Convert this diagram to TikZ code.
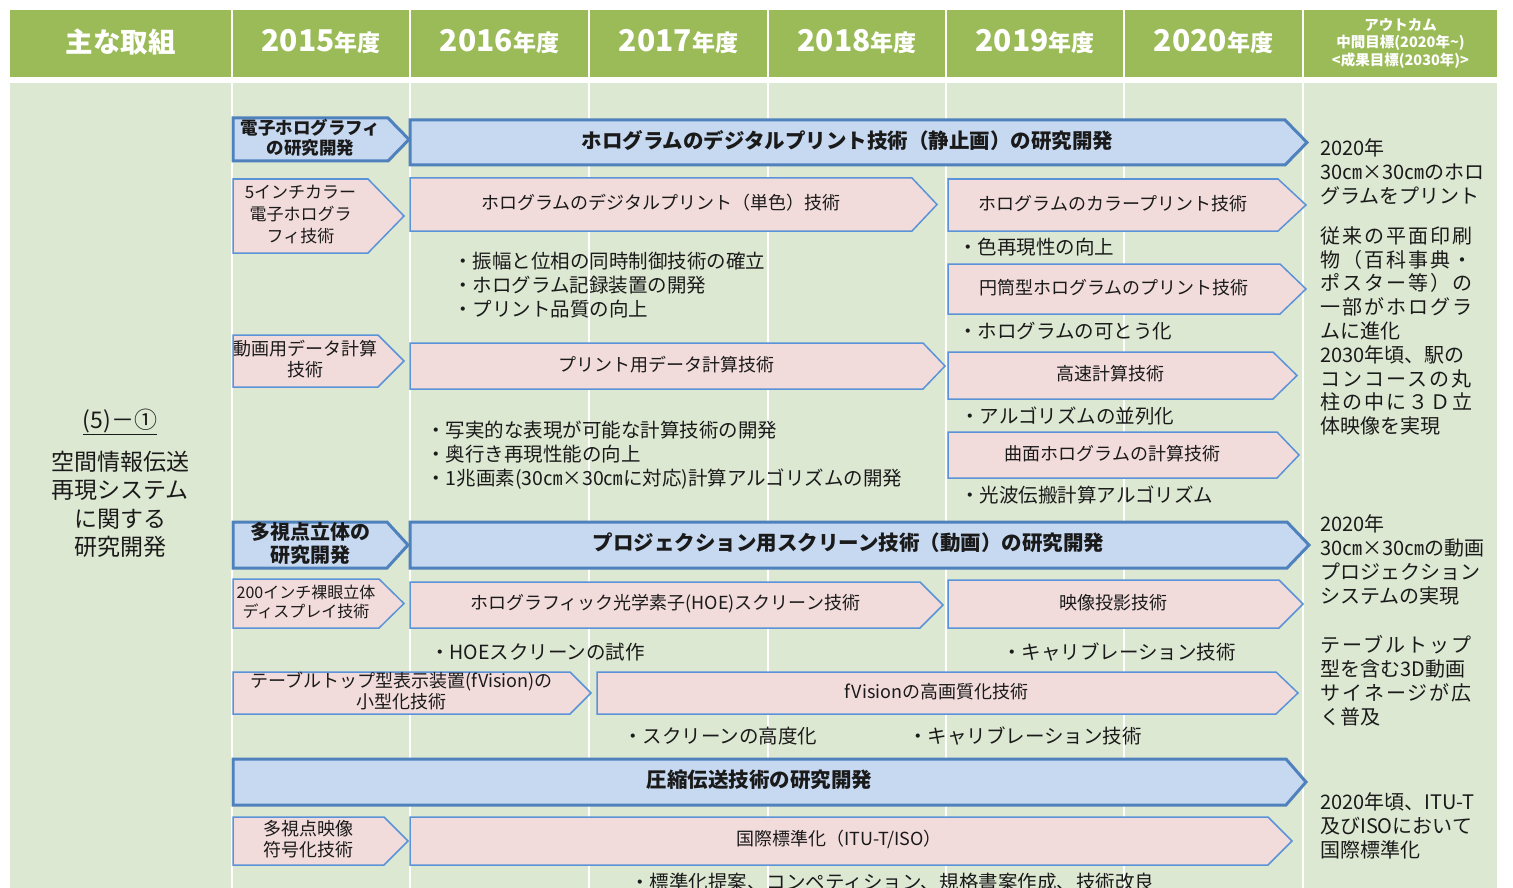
\documentclass[tikz,border=0pt]{standalone}
\usepackage{fontspec}
\setmainfont{Noto Sans CJK JP}
\definecolor{hdrgreen}{HTML}{9BBB59}
\definecolor{bodygreen}{HTML}{DDE8D3}
\definecolor{bluefill}{HTML}{C6D9F1}
\definecolor{blueline}{HTML}{4F81BD}
\definecolor{pinkfill}{HTML}{F2DCDB}
\definecolor{pinkline}{HTML}{5B93D8}
\definecolor{ink}{HTML}{1A1A1A}
\newcommand\fs[2]{\fontsize{#1}{#2}\selectfont}
\newcommand\ls[1]{{\addfontfeature{LetterSpace=10}#1}}
\newcommand\tlarrow[8]{%
  \draw[#2] (#3,#4) -- ({#5-#7},#4) -- (#5,{(#4+#6)/2}) -- ({#5-#7},#6) -- (#3,#6) -- cycle;
  \node[#2txt] (#1) at ({(#3+#5-#7)/2},{(#4+#6)/2}) {#8};}
\tikzset{
  bigblue/.style={fill=bluefill,draw=blueline,line width=3pt,line join=miter},
  bigbluetxt/.style={font=\bfseries\fs{20.5}{23},text=ink,align=center,inner sep=0,yshift=2pt},
  midblue/.style={bigblue},
  midbluetxt/.style={bigbluetxt,font=\bfseries\fs{20}{23}},
  smallblue/.style={bigblue},
  smallbluetxt/.style={bigbluetxt,font=\bfseries\fs{17.5}{20}},
  pinkbox/.style={fill=pinkfill,draw=pinkline,line width=1.5pt,line join=miter},
  pinkboxtxt/.style={font=\fs{18}{21},text=ink,align=center,inner sep=0,yshift=1.5pt},
  pinkfive/.style={pinkbox},
  pinkfivetxt/.style={pinkboxtxt,font=\fs{17}{22}},
  pinksmall/.style={pinkbox},
  pinksmalltxt/.style={pinkboxtxt,font=\fs{16}{19}},
  bullet/.style={anchor=west,inner sep=0,font=\fs{19.5}{24},text=ink},
  outc/.style={anchor=west,inner sep=0,font=\fs{20}{24},align=left,text=ink},
  hdr/.style={text=white,font=\bfseries\fs{27.5}{30},inner sep=0},
  lefttxt/.style={text=ink,font=\fs{23}{28.5},inner sep=0,align=center},
}
\begin{document}
\begin{tikzpicture}[x=1pt,y=-1pt]
\fill[white] (0,0) rectangle (1513,888);
\useasboundingbox (0,0) rectangle (1513,888);
\foreach \a/\b in {10/231,233/409,411/588,590/767,769/945,947/1123,1125/1302,1304/1497} {
  \fill[hdrgreen] (\a,10) rectangle (\b,77);
  \fill[bodygreen] (\a,83) rectangle (\b,900);
}
% header texts
\node[hdr] (h0) at (120.5,42) {主な取組};
\node[hdr] (h1) at (321,42) {{\fs{30}{30}2015}{\fs{23}{23}年度}};
\node[hdr] (h2) at (499.5,42) {{\fs{30}{30}2016}{\fs{23}{23}年度}};
\node[hdr] (h3) at (678.5,42) {{\fs{30}{30}2017}{\fs{23}{23}年度}};
\node[hdr] (h4) at (857,42) {{\fs{30}{30}2018}{\fs{23}{23}年度}};
\node[hdr] (h5) at (1035,42) {{\fs{30}{30}2019}{\fs{23}{23}年度}};
\node[hdr] (h6) at (1213.5,42) {{\fs{30}{30}2020}{\fs{23}{23}年度}};
\node[hdr,font=\bfseries\fs{14.5}{17.5},align=center] (h7) at (1400.5,43) {アウトカム\\中間目標(2020年\textasciitilde)\\<成果目標(2030年)>};
% left column
\node[lefttxt] (l1) at (120,422) {\underline{(5)－①}};
\node[lefttxt] (l2) at (120,504.5) {空間情報伝送\\再現システム\\に関する\\研究開発};
% arrows
\tlarrow{a1}{smallblue}{233}{118}{409}{161}{21}{電子ホログラフィ\\の研究開発}
\tlarrow{a2}{bigblue}{410}{120}{1307}{165}{22}{ホログラムのデジタルプリント技術（静止画）の研究開発}
\tlarrow{a3}{pinkfive}{233}{179}{404}{253}{36}{5インチカラー\\電子ホログラ\\フィ技術}
\tlarrow{a4}{pinkbox}{410}{178}{937}{231}{25}{ホログラムのデジタルプリント（単色）技術}
\tlarrow{a5}{pinkbox}{948}{179}{1306}{231}{28}{ホログラムのカラープリント技術}
\tlarrow{a6}{pinkbox}{948}{264}{1306}{314}{26}{円筒型ホログラムのプリント技術}
\tlarrow{a7}{pinkbox}{233}{335}{404}{387}{26}{動画用データ計算\\技術}
\tlarrow{a8}{pinkbox}{410}{343}{945}{389}{22}{プリント用データ計算技術}
\tlarrow{a9}{pinkbox}{948}{352}{1297}{399}{24}{高速計算技術}
\tlarrow{a10}{pinkbox}{948}{432}{1299}{478}{22}{曲面ホログラムの計算技術}
\tlarrow{a11}{midblue}{233}{522}{408}{568}{21}{多視点立体の\\研究開発}
\tlarrow{a12}{bigblue}{410}{522}{1309}{568}{22}{プロジェクション用スクリーン技術（動画）の研究開発}
\tlarrow{a13}{pinksmall}{233}{579}{404}{628}{25}{200インチ裸眼立体\\ディスプレイ技術}
\tlarrow{a14}{pinkbox}{410}{582}{943}{628}{23}{ホログラフィック光学素子(HOE)スクリーン技術}
\tlarrow{a15}{pinkbox}{948}{580}{1303}{628}{24}{映像投影技術}
\tlarrow{a16}{pinkbox}{233}{672}{591}{714}{21}{テーブルトップ型表示装置(fVision)の\\小型化技術}
\tlarrow{a17}{pinkbox}{597}{672}{1298}{714}{22}{fVisionの高画質化技術}
\tlarrow{a18}{bigblue}{233}{759}{1306}{805}{20}{圧縮伝送技術の研究開発}
\tlarrow{a19}{pinkbox}{233}{817}{408}{865}{24}{多視点映像\\符号化技術}
\tlarrow{a20}{pinkbox}{410}{817}{1292}{865}{24}{国際標準化（ITU-T/ISO）}
% bullets
\node[bullet] (t1) at (453,261) {・振幅と位相の同時制御技術の確立};
\node[bullet] (t2) at (453,285) {・ホログラム記録装置の開発};
\node[bullet] (t3) at (453,309) {・プリント品質の向上};
\node[bullet] (t4) at (958,247) {・色再現性の向上};
\node[bullet] (t5) at (958,331) {・ホログラムの可とう化};
\node[bullet] (t6) at (960,416) {・アルゴリズムの並列化};
\node[bullet] (t7) at (426,430) {・写実的な表現が可能な計算技術の開発};
\node[bullet] (t8) at (426,454) {・奥行き再現性能の向上};
\node[bullet] (t9) at (426,479) {・1兆画素(30㎝×30㎝に対応)計算アルゴリズムの開発};
\node[bullet] (t10) at (960,495) {・光波伝搬計算アルゴリズム};
\node[bullet] (t11) at (430,652) {・HOEスクリーンの試作};
\node[bullet] (t12) at (1002,652) {・キャリブレーション技術};
\node[bullet] (t13) at (623,736) {・スクリーンの高度化};
\node[bullet] (t14) at (908,736) {・キャリブレーション技術};
\node[bullet] (t15) at (630,882) {・標準化提案、コンペティション、規格書案作成、技術改良};
% outcomes
\node[outc] (o1) at (1320,172) {2020年\\30㎝×30㎝のホロ\\グラムをプリント};
\node[outc,font=\fs{20}{23.8}] (o2) at (1320,331) {\ls{従来の平面印刷}\\\ls{物（百科事典・}\\\ls{ポスター等）の}\\\ls{一部がホログラ}\\ムに進化\\2030年頃、駅の\\\ls{コンコースの丸}\\\ls{柱の中に３Ｄ立}\\体映像を実現};
\node[outc] (o3) at (1320,560) {2020年\\30㎝×30㎝の動画\\プロジェクション\\システムの実現};
\node[outc] (o4) at (1320,681) {\ls{テーブルトップ}\\型を含む3D動画\\\ls{サイネージが広}\\く普及};
\node[outc] (o5) at (1320,826) {2020年頃、ITU-T\\及びISOにおいて\\国際標準化};
\end{tikzpicture}
\end{document}
